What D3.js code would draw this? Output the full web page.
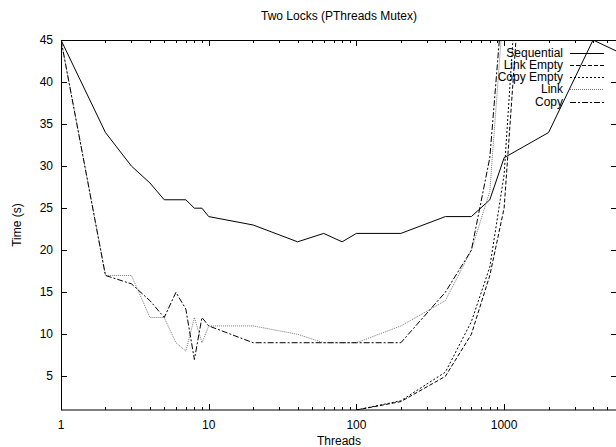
<!DOCTYPE html>
<html>
<head>
<meta charset="utf-8">
<script src="https://cdn.jsdelivr.net/npm/d3@7"></script>
<style>
  body { margin: 0; background: #fff; }
  text { font-family: "Liberation Sans", Arial, sans-serif; font-size: 12px; fill: #000; }
  .line { fill: none; stroke-width: 1; }
</style>
</head>
<body>
<div id="chart"></div>
<script>
// thread counts on the x axis (log scale)
var threads = [1, 2, 3, 4, 5, 6, 7, 8, 9, 10, 20, 40, 60, 80, 100, 200, 400, 600, 800, 1000, 2000, 4000, 8000];

// time in seconds, null where the series is not visible
var sequential = [45, 34, 30, 28, 26, 26, 26, 25, 25, 24, 23, 21, 22, 21, 22, 22, 24, 24, 26, 31, 34, 45, 42.5];
var linkEmpty  = [null, null, null, null, null, null, null, null, null, null, null, null, null, null, 1, 2, 5, 10, 17, 25, 100, null, null];
var copyEmpty  = [null, null, null, null, null, null, null, null, null, null, null, null, null, null, 1, 2.1, 5.5, 11.5, 18, 29, 110, null, null];
var link       = [45, 17, 17, 12, 12, 9, 8, 12, 9, 11, 11, 10, 9, 9, 9, 11, 14, 20, 27, 50, 120, null, null];
var copy       = [45, 17, 16, 14, 12, 15, 13, 7, 12, 11, 9, 9, 9, 9, 9, 9, 15, 20, 31, 52, 120, null, null];

var seriesNames = ["Sequential", "Link Empty", "Copy Empty", "Link", "Copy"];
var seriesValues = [sequential, linkEmpty, copyEmpty, link, copy];

var xTickValues = [1, 10, 100, 1000];
var yTickValues = [5, 10, 15, 20, 25, 30, 35, 40, 45];

var styles = [
  {stroke: "#000", dash: null},
  {stroke: "#000", dash: "4,2"},
  {stroke: "#000", dash: "2,2"},
  {stroke: "#777", dash: "1,1"},
  {stroke: "#000", dash: "6,2,2,2"}
];

var margin = {top: 40, right: 0, bottom: 37, left: 61},
    width = 556,
    height = 370;

var x = d3.scaleLog()
    .domain([1, 5810])
    .range([0, width]);

var y = d3.scaleLinear()
    .domain([1, 45])
    .range([height, 0]);

var svg = d3.select("#chart").append("svg")
    .attr("width", 616)
    .attr("height", 447)
  .append("g")
    .attr("transform", "translate(" + margin.left + "," + margin.top + ")");

svg.append("defs").append("clipPath")
    .attr("id", "clip")
  .append("rect")
    .attr("width", width)
    .attr("height", height);

//minor ticks for every decade
var minorTicks = [];
[1, 10, 100, 1000].forEach(function(d) {
  for (var k = 2; k <= 9; k++) {
    if (d * k < x.domain()[1]) minorTicks.push(d * k);
  }
});

var tickG = svg.append("g").attr("stroke", "#000").attr("stroke-width", 1);

xTickValues.forEach(function(v) {
  var px = Math.round(x(v)) + 0.5;
  tickG.append("line").attr("x1", px).attr("x2", px).attr("y1", height).attr("y2", height - 6);
  tickG.append("line").attr("x1", px).attr("x2", px).attr("y1", 0).attr("y2", 6);
});
minorTicks.forEach(function(v) {
  var px = Math.round(x(v)) + 0.5;
  tickG.append("line").attr("x1", px).attr("x2", px).attr("y1", height).attr("y2", height - 3);
  tickG.append("line").attr("x1", px).attr("x2", px).attr("y1", 0).attr("y2", 3);
});
yTickValues.forEach(function(v) {
  var py = Math.round(y(v)) + 0.5;
  tickG.append("line").attr("x1", 0).attr("x2", 6).attr("y1", py).attr("y2", py);
  tickG.append("line").attr("x1", width).attr("x2", width - 6).attr("y1", py).attr("y2", py);
});

//tick labels
svg.selectAll(".xlab")
    .data(xTickValues)
  .enter().append("text")
    .attr("x", function(d) { return x(d); })
    .attr("y", height + 19)
    .attr("text-anchor", "middle")
    .text(function(d) { return d; });

svg.selectAll(".ylab")
    .data(yTickValues)
  .enter().append("text")
    .attr("x", -8)
    .attr("y", function(d) { return y(d) + 4; })
    .attr("text-anchor", "end")
    .text(function(d) { return d; });

//series
var line = d3.line()
    .defined(function(d) { return d[1] !== null; })
    .x(function(d) { return x(d[0]); })
    .y(function(d) { return y(d[1]); });

var plot = svg.append("g").attr("clip-path", "url(#clip)");

seriesValues.forEach(function(vals, i) {
  var pts = threads.map(function(t, j) { return [t, vals[j]]; });
  plot.append("path")
      .datum(pts)
      .attr("class", "line")
      .attr("stroke", styles[i].stroke)
      .attr("stroke-dasharray", styles[i].dash)
      .attr("d", line);
});

//border
svg.append("rect")
    .attr("x", 0.5)
    .attr("y", 0.5)
    .attr("width", width)
    .attr("height", height - 0.5)
    .attr("fill", "none")
    .attr("stroke", "#000");

//legend
var legend = svg.append("g").attr("transform", "translate(" + (502 - margin.left + margin.left) + ",0)");
seriesNames.forEach(function(name, i) {
  var cy = 12.5 + i * 12.3;
  svg.append("text")
      .attr("x", 563 - margin.left)
      .attr("y", cy + 4)
      .attr("text-anchor", "end")
      .text(name);
  svg.append("line")
      .attr("x1", 570 - margin.left)
      .attr("x2", 604 - margin.left)
      .attr("y1", Math.round(cy) + 0.5)
      .attr("y2", Math.round(cy) + 0.5)
      .attr("stroke", styles[i].stroke)
      .attr("stroke-dasharray", styles[i].dash);
});

//titles
svg.append("text")
    .attr("x", width / 2)
    .attr("y", -20)
    .attr("text-anchor", "middle")
    .text("Two Locks (PThreads Mutex)");

svg.append("text")
    .attr("x", width / 2)
    .attr("y", height + 35)
    .attr("text-anchor", "middle")
    .text("Threads");

svg.append("text")
    .attr("transform", "translate(" + (-40) + "," + (height / 2) + ") rotate(-90)")
    .attr("text-anchor", "middle")
    .text("Time (s)");
</script>
</body>
</html>
